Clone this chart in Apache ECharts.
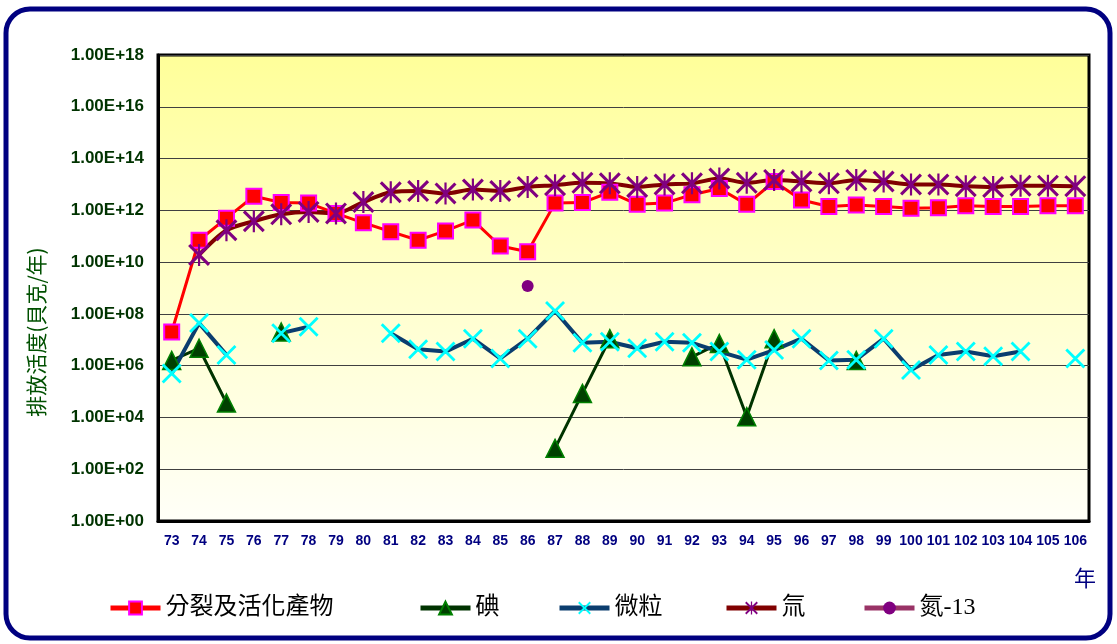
<!DOCTYPE html>
<html>
<head>
<meta charset="utf-8">
<script src="https://cdn.jsdelivr.net/npm/echarts@6/dist/echarts.min.js"></script>
<style>
html,body{margin:0;padding:0;background:#fff;}
#chart{width:1117px;height:644px;}
</style>
</head>
<body>
<div id="chart"></div>
<script>
const years = ['73','74','75','76','77','78','79','80','81','82','83','84','85','86','87','88','89','90','91','92','93','94','95','96','97','98','99','100','101','102','103','104','105','106'];
const fission = [2e7,7e10,5e11,3.5e12,2e12,1.9e12,7.6e11,3.3e11,1.5e11,7e10,1.6e11,4.2e11,4.2e10,2.5e10,1.9e12,2e12,5e12,1.7e12,1.9e12,4e12,7e12,1.7e12,1.3e13,2.5e12,1.4e12,1.6e12,1.4e12,1.2e12,1.25e12,1.5e12,1.4e12,1.4e12,1.5e12,1.5e12];
const iodine = [1.6e6,4.7e6,3.6e4,null,2e7,null,null,null,null,null,null,null,null,null,6.4e2,8.5e4,1.1e7,null,null,2.2e6,7.2e6,1.07e4,1.1e7,null,null,1.6e6,null,null,null,null,null,null,null,null];
const particulate = [5e5,4.4e7,2.6e6,null,1.8e7,3.2e7,null,null,1.8e7,4.3e6,3.5e6,1.1e7,1.9e6,1.1e7,1.3e8,7.6e6,8.4e6,4.7e6,8.4e6,7.6e6,3.5e6,1.7e6,4e6,1.1e7,1.6e6,1.7e6,1.1e7,6.8e5,2.6e6,3.5e6,2.3e6,3.5e6,null,1.9e6];
const tritium = [null,1.9e10,1.7e11,3.8e11,7e11,8.7e11,7.6e11,2.1e12,5e12,5.6e12,4.5e12,6.4e12,5.6e12,8e12,9.4e12,1.15e13,1.1e13,8e12,1e13,1.1e13,1.7e13,1.15e13,1.5e13,1.3e13,1.1e13,1.5e13,1.3e13,1e13,1e13,8.6e12,8e12,9e12,9e12,8.6e12];
const n13 = [null,null,null,null,null,null,null,null,null,null,null,null,null,1.2e9,null,null,null,null,null,null,null,null,null,null,null,null,null,null,null,null,null,null,null,null];
const seriesNames = ['分裂及活化產物','碘','微粒','氚','氮-13'];
const yAxisName = '排放活度(貝克/年)';
const xUnit = '年';

const X_PATH = 'path://M0,1L1,0L10,9L9,10Z M9,0L10,1L1,10L0,9Z';
const STAR_PATH = 'path://M4.5,0L5.5,0L5.5,10L4.5,10Z M0,1L1,0L10,9L9,10Z M9,0L10,1L1,10L0,9Z';

const legendLefts = [108, 418, 557, 724, 862];
const legendFont = {fontSize:24, color:'#000', fontFamily:'"Liberation Serif", "Noto Sans CJK TC"'};
const legends = seriesNames.map(function(n,i){
  return {left:legendLefts[i], top:596, itemWidth:50, itemHeight:16, itemGap:0, padding:0,
    lineStyle:{width:5}, textStyle:legendFont, data:[n]};
});

const chart = echarts.init(document.getElementById('chart'), null, {renderer:'canvas'});
chart.setOption({
  animation:false,
  backgroundColor:'#fff',
  graphic:[
    {type:'rect', shape:{x:6,y:9,width:1104,height:629,r:24}, style:{fill:'none',stroke:'#000080',lineWidth:5}, z:-10},
    {type:'text', x:1074, y:567, style:{text:xUnit, fill:'#000080', font:'22px "Noto Sans CJK TC"'}},
    {type:'text', x:36, y:332, rotation:Math.PI/2, style:{text:yAxisName, fill:'#005000', font:'21px "Noto Sans CJK TC"', align:'center', verticalAlign:'middle'}}
  ],
  grid:{left:158,right:28,top:55,bottom:123,show:true,borderColor:'#000',borderWidth:3,
    backgroundColor:new echarts.graphic.LinearGradient(0,0,0,1,[{offset:0,color:'#FFFF99'},{offset:0.5,color:'#FFFFCC'},{offset:1,color:'#FFFFF8'}])},
  legend:legends,
  xAxis:{type:'category', data:years, boundaryGap:true,
    axisLine:{show:true,lineStyle:{color:'#000',width:3}}, axisTick:{show:false},
    axisLabel:{interval:0, color:'#000080', fontWeight:'bold', fontSize:14, fontFamily:'"Liberation Sans Narrow", "Liberation Sans", Arial', margin:13},
    splitLine:{show:false}},
  yAxis:{type:'log', logBase:10, min:1, max:1e18, interval:2, splitNumber:9,
    axisLine:{show:true,lineStyle:{color:'#000',width:3}}, axisTick:{show:false}, minorTick:{show:false},
    axisLabel:{color:'#003300', fontWeight:'bold', fontSize:17, fontFamily:'"Liberation Sans", Arial', margin:14,
      formatter:function(v){const e=Math.round(Math.log10(v));return '1.00E+'+(e<10?'0'+e:e);}},
    splitLine:{show:true,lineStyle:{color:'#404040',width:1}}},
  series:[
    {name:seriesNames[0], type:'line', data:fission, symbol:'rect', symbolSize:15,
      lineStyle:{color:'#FF0000',width:3}, itemStyle:{color:'#FF0000',borderColor:'#FF00FF',borderWidth:2}},
    {name:seriesNames[1], type:'line', data:iodine, symbol:'triangle', symbolSize:18,
      lineStyle:{color:'#003300',width:3}, itemStyle:{color:'#004000',borderColor:'#008000',borderWidth:1.5}},
    {name:seriesNames[2], type:'line', data:particulate, symbol:X_PATH, symbolSize:20,
      lineStyle:{color:'#0B3D6E',width:4}, itemStyle:{color:'#00FFFF'}},
    {name:seriesNames[3], type:'line', data:tritium, symbol:STAR_PATH, symbolSize:22, smooth:0.3,
      lineStyle:{color:'#800000',width:4}, itemStyle:{color:'#800080'}},
    {name:seriesNames[4], type:'line', data:n13, symbol:'circle', symbolSize:12,
      lineStyle:{color:'#993366',width:4}, itemStyle:{color:'#800080'}}
  ]
});
</script>
</body>
</html>
